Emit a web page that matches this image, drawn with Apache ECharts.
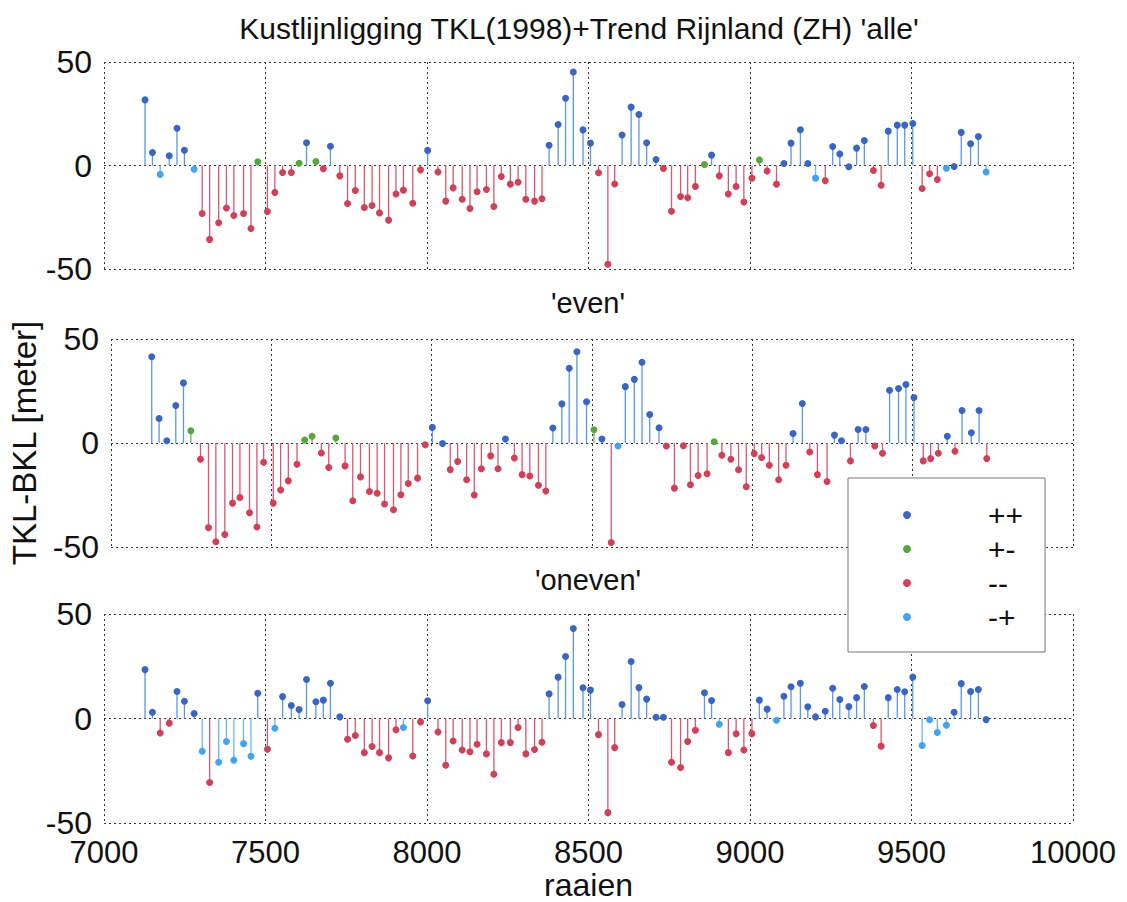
<!DOCTYPE html>
<html><head><meta charset="utf-8">
<script src="https://cdn.jsdelivr.net/npm/echarts@6/dist/echarts.min.js"></script>
<style>html,body{margin:0;padding:0;background:#fff}#c{width:1127px;height:902px}</style>
</head><body><div id="c"></div>
<script>
// raai numbers (shared x positions)
const raaien = [7127,7150,7174,7202,7226,7249,7279,7304,7327,7355,
7379,7402,7432,7455,7476,7506,7529,7553,7580,7604,
7627,7656,7679,7701,7730,7754,7778,7806,7830,7853,
7881,7904,7927,7956,7980,8002,8034,8058,8081,8109,
8133,8155,8184,8207,8230,8258,8282,8306,8333,8356,
8378,8406,8429,8453,8483,8506,8531,8560,8581,8604,
8632,8656,8680,8709,8732,8757,8785,8807,8831,8859,
8881,8905,8933,8957,8981,9006,9029,9053,9082,9105,
9127,9156,9179,9203,9233,9256,9278,9306,9330,9354,
9382,9406,9428,9456,9479,9504,9533,9556,9580,9608,
9632,9654,9683,9707,9731];

const categories = ['++', '+-', '--', '-+'];

// 'alle'
const alleVal = [31.7,6.3,-4.3,4.7,18,7.4,-1.8,-23.2,-35.7,-27.7,
-20.5,-24.2,-23.2,-30.4,1.8,-22.2,-13,-3.4,-3.4,1.1,
11,1.9,-1.6,9.3,-5,-18.4,-12.1,-20.3,-19.3,-22.9,
-26.4,-13.8,-11.9,-18.2,-2.1,7.3,-3.1,-17.2,-10.8,-16.3,
-20.8,-12.7,-11.6,-19.8,-5.3,-9,-8.1,-16.3,-17.2,-16.1,
9.8,19.8,32.5,45.2,17.2,10.8,-3.5,-47.7,-8.9,14.7,
28.2,24.6,11,2.9,-1.4,-22.1,-15,-15.6,-10.1,0.5,
5,-5,-13.8,-10.1,-17.6,-6.1,2.7,-2.7,-9,1,
10.8,17.3,1,-6.1,-7.3,9.2,5.6,-0.6,8.4,12.1,
-2.4,-9.5,16.6,19.5,19.5,20.3,-11.1,-4,-6.8,-1.3,
-0.5,16,10.5,14,-3.1];
const alleCat = [0,0,3,0,0,0,3,2,2,2,
2,2,2,2,1,2,2,2,2,1,
0,1,2,0,2,2,2,2,2,2,
2,2,2,2,2,0,2,2,2,2,
2,2,2,2,2,2,2,2,2,2,
0,0,0,0,0,0,2,2,2,0,
0,0,0,0,2,2,2,2,2,1,
0,2,2,2,2,2,1,2,2,0,
0,0,0,3,2,0,0,0,0,0,
2,2,0,0,0,0,2,2,2,3,
0,0,0,0,3];

// 'even'
const evenVal = [41.5,11.8,1.1,18,28.9,5.9,-7.8,-40.7,-47.5,-44,
-28.9,-26.2,-33.5,-40.4,-9.3,-28.9,-22.6,-18.2,-10.2,1.4,
3.2,-4.8,-11.8,2.4,-11,-27.8,-16.3,-23.3,-24.2,-29.3,
-32.1,-24.9,-19.5,-16.9,-0.8,7.5,-0.2,-12.8,-8.9,-17.7,
-25,-12.4,-6.2,-12.4,1.9,-7.2,-15.2,-15.9,-20.3,-23.1,
7.2,18.8,35.9,43.9,19.8,6.4,1.9,-47.8,-1.4,27.1,
30.6,38.8,13.7,7.3,-1.4,-21.7,-1.3,-20.1,-15.6,-14.8,
0.6,-5.9,-7.8,-12.9,-21,-5.1,-7,-10.7,-17.7,-10.7,
4.6,19,-4.3,-15.2,-18.5,3.8,1.1,-8.6,6.5,6.5,
-1.4,-4.9,25.4,26.2,28.1,21.9,-8.6,-7.5,-4.9,3.2,
-4,15.6,4.9,15.6,-7.5];
const evenCat = [0,0,0,0,0,1,2,2,2,2,
2,2,2,2,2,2,2,2,2,1,
1,2,2,1,2,2,2,2,2,2,
2,2,2,2,2,0,0,2,2,2,
2,2,2,2,0,2,2,2,2,2,
0,0,0,0,0,1,0,2,3,0,
0,0,0,0,2,2,2,2,2,2,
1,2,2,2,2,2,2,2,2,2,
0,0,2,2,2,0,0,2,0,0,
2,2,0,0,0,0,2,2,2,0,
2,0,0,0,2];

// 'oneven'
const onevenVal = [23.4,3,-6.9,-2.2,12.9,8.3,2.4,-15.6,-30.6,-20.9,
-11,-19.9,-12,-18,12.1,-14.7,-4.6,10.5,6.2,4.3,
18.7,8,8.8,16.9,0.8,-9.9,-8.1,-16.3,-13.4,-16.3,
-18.8,-5.4,-4.3,-17.9,-1.6,8.5,-6.4,-22.3,-10.7,-15,
-15.9,-12.3,-16.9,-26.6,-11.5,-11.5,-4.3,-16.9,-14.8,-11.3,
11.8,19.8,29.7,43.1,14.7,13.6,-7.7,-45,-13.9,6.7,
27.3,14.8,9.3,0.6,0.6,-20.9,-23.4,-11,-5.6,12.3,
8.6,-2.7,-16.3,-7.3,-15,-7.2,8.8,4.5,-0.8,10.7,
15.2,16.9,5.6,0.8,3.5,14.5,9.1,5.7,10,15.3,
-3.3,-13.2,10,13.9,12.8,19.8,-12.9,-0.6,-6.7,-3.2,
3,16.7,12.9,13.9,-0.5];
const onevenCat = [0,0,2,2,0,0,0,3,2,3,
3,3,3,3,0,2,3,0,0,0,
0,0,0,0,0,2,2,2,2,2,
2,2,3,2,2,0,2,2,2,2,
2,2,2,2,2,2,2,2,2,2,
0,0,0,0,0,0,2,2,2,0,
0,0,0,0,0,2,2,2,2,0,
0,3,2,2,2,2,0,0,3,0,
0,0,0,0,0,0,0,0,0,0,
2,2,0,0,0,0,3,3,3,3,
0,0,0,0,0];

const xTicks = [7000, 7500, 8000, 8500, 9000, 9500, 10000];
const yTicks = [-50, 0, 50];

const DOT = ['#3a65c3', '#56a53e', '#cf4059', '#43a3ef'];
const STEM = ['#5c97e2', '#6cb356', '#dc5670', '#6ab6f2'];
const FONT = "'Liberation Sans', Arial, sans-serif";

const panels = [
  {vals: alleVal, cats: alleCat, top: 62, bottom: 269},
  {vals: evenVal, cats: evenCat, top: 339, bottom: 547},
  {vals: onevenVal, cats: onevenCat, top: 614, bottom: 825}
];

const gridLine = {show: true, lineStyle: {color: '#333', width: 1, type: [2, 3]}};

const grids = [], xAxes = [], yAxes = [], series = [];
panels.forEach((p, i) => {
  grids.push({left: 104, right: 54, top: p.top, height: p.bottom - p.top});
  xAxes.push({
    type: 'value', gridIndex: i, min: xTicks[0], max: xTicks[xTicks.length - 1], interval: 500,
    axisLine: {show: false}, axisTick: {show: false},
    splitLine: Object.assign({showMinLine: true, showMaxLine: true}, gridLine),
    axisLabel: {show: i === 2, fontSize: 31, color: '#111', fontFamily: FONT, margin: 14,
      formatter: v => String(v)},
    name: i === 2 ? 'raaien' : '', nameLocation: 'middle', nameGap: 42,
    nameTextStyle: {fontSize: 32, color: '#111', fontFamily: FONT}
  });
  yAxes.push({
    type: 'value', gridIndex: i, min: yTicks[0], max: yTicks[2], interval: 50,
    axisLine: {show: false}, axisTick: {show: false},
    splitLine: Object.assign({showMinLine: true, showMaxLine: true}, gridLine),
    axisLabel: {fontSize: 32, color: '#111', fontFamily: FONT, margin: 12},
    name: i === 1 ? 'TKL-BKL [meter]' : '', nameLocation: 'middle', nameGap: 70,
    nameTextStyle: {fontSize: 33, color: '#111', fontFamily: FONT}
  });
  // stems
  series.push({
    type: 'custom', xAxisIndex: i, yAxisIndex: i, silent: true, z: 2,
    data: raaien.map((x, k) => [x, p.vals[k], p.cats[k]]),
    encode: {x: 0, y: 1},
    renderItem: function (params, api) {
      const x = api.value(0), v = api.value(1), c = api.value(2);
      const a = api.coord([x, 0]), b = api.coord([x, v]);
      return {type: 'line', shape: {x1: a[0], y1: a[1], x2: b[0], y2: b[1]},
        style: {stroke: STEM[c], lineWidth: 1.3}};
    }
  });
  // dots per category
  categories.forEach((name, c) => {
    series.push({
      type: 'scatter', name: name, xAxisIndex: i, yAxisIndex: i, z: 3,
      symbol: 'circle', symbolSize: 7, itemStyle: {color: DOT[c], opacity: 1},
      data: raaien.map((x, k) => [x, p.vals[k], p.cats[k]]).filter(d => d[2] === c).map(d => [d[0], d[1]])
    });
  });
});

const chart = echarts.init(document.getElementById('c'), null, {renderer: 'svg'});
chart.setOption({
  animation: false,
  backgroundColor: '#fff',
  grid: grids, xAxis: xAxes, yAxis: yAxes, series: series,
  legend: {
    data: categories.map(n => ({name: n, icon: 'circle'})),
    orient: 'vertical', left: 848, top: 478, selectedMode: false,
    itemWidth: 8, itemHeight: 8, itemGap: 0,
    padding: [20, 22, 18, 55],
    backgroundColor: '#fff', borderColor: '#777', borderWidth: 1,
    textStyle: {fontSize: 30, lineHeight: 34, color: '#111', fontFamily: FONT, padding: [0, 0, 0, 72]}
  },
  graphic: [
    {type: 'text', x: 579, y: 28, style: {text: "Kustlijnligging TKL(1998)+Trend Rijnland (ZH) 'alle'",
      fontSize: 30, fontFamily: FONT, fill: '#111', align: 'center', verticalAlign: 'middle'}},
    {type: 'text', x: 588, y: 303, style: {text: "'even'",
      fontSize: 29, fontFamily: FONT, fill: '#111', align: 'center', verticalAlign: 'middle'}},
    {type: 'text', x: 588, y: 580, style: {text: "'oneven'",
      fontSize: 29, fontFamily: FONT, fill: '#111', align: 'center', verticalAlign: 'middle'}}
  ]
});
</script></body></html>
